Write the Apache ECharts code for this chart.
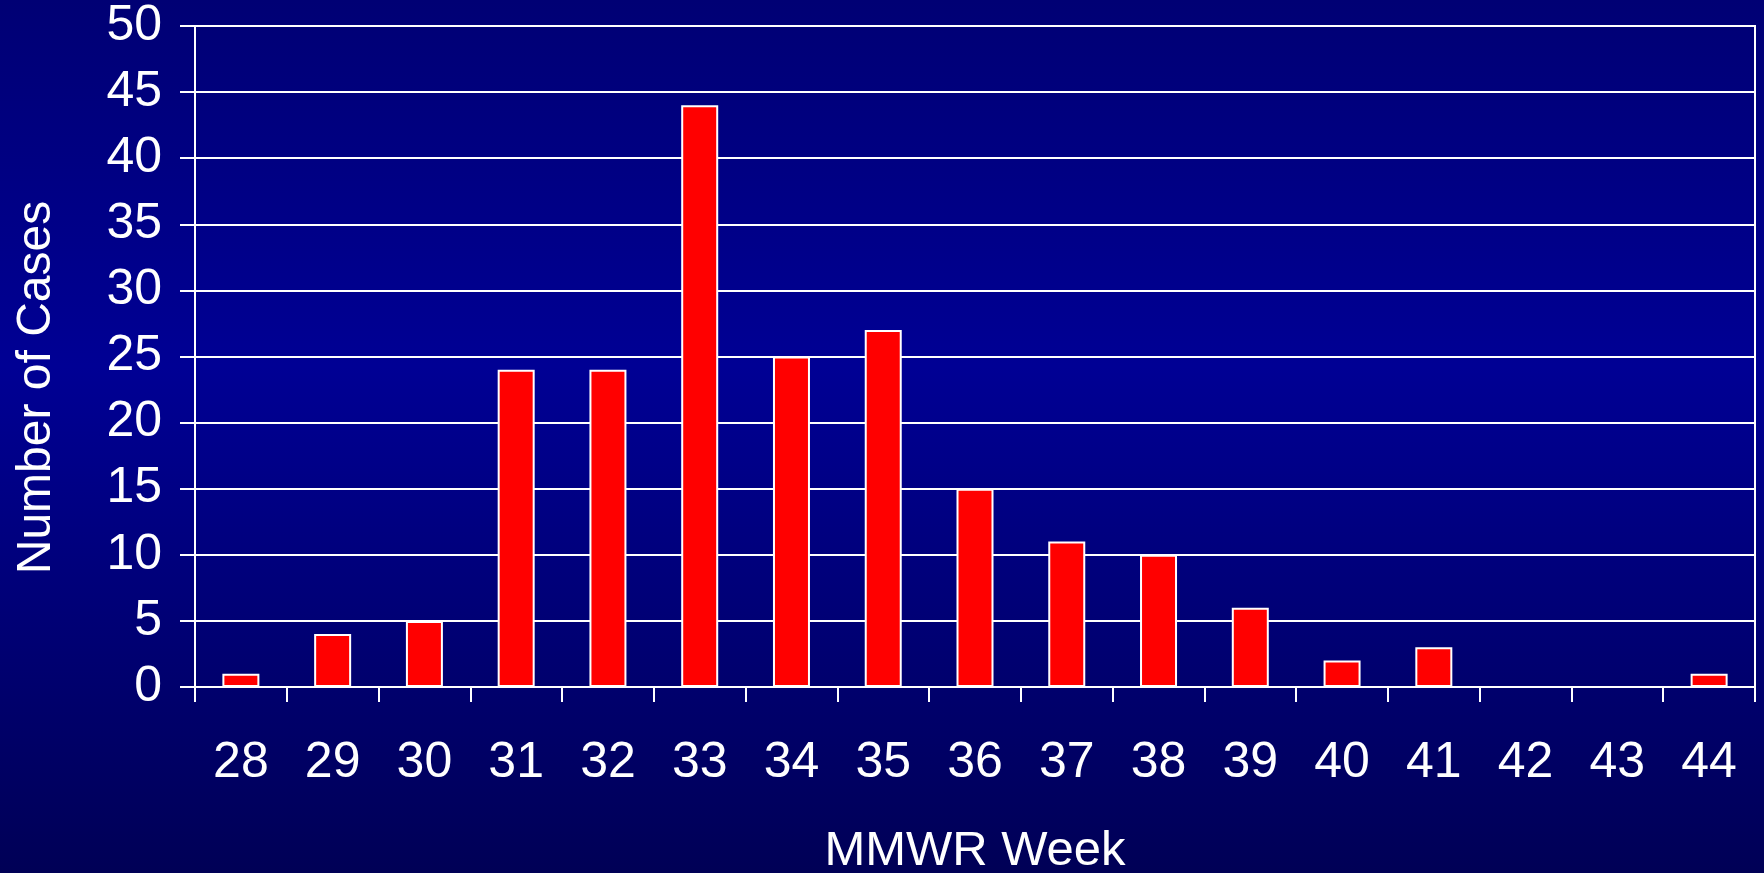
<!DOCTYPE html>
<html>
<head>
<meta charset="utf-8">
<script src="https://cdn.jsdelivr.net/npm/echarts@6/dist/echarts.min.js"></script>
<style>
html,body{margin:0;padding:0;width:1764px;height:873px;overflow:hidden;}
#chart{width:1764px;height:873px;}
</style>
</head>
<body>
<div id="chart"></div>
<script>
const weeks = ['28','29','30','31','32','33','34','35','36','37','38','39','40','41','42','43','44'];
const cases = [1, 4, 5, 24, 24, 44, 25, 27, 15, 11, 10, 6, 2, 3, 0, 0, 1];
const yTitle = 'Number of Cases';
const xTitle = 'MMWR Week';

const chart = echarts.init(document.getElementById('chart'));
const font = 'Liberation Sans, Arial, sans-serif';
chart.setOption({
  animation: false,
  backgroundColor: {
    type: 'linear', x: 0, y: 0, x2: 0, y2: 1,
    colorStops: [
      {offset: 0, color: '#000074'},
      {offset: 0.42, color: '#000094'},
      {offset: 1, color: '#000056'}
    ]
  },
  grid: {
    left: 195, right: 9, top: 26, bottom: 186,
    containLabel: false,
    outerBoundsMode: 'none',
    show: true, borderColor: '#ffffff', borderWidth: 2,
    backgroundColor: 'transparent'
  },
  xAxis: {
    type: 'category',
    data: weeks,
    name: xTitle,
    nameLocation: 'middle',
    nameGap: 140,
    nameTextStyle: {color: '#ffffff', fontSize: 49, fontFamily: font},
    axisLine: {lineStyle: {color: '#ffffff', width: 2}},
    axisTick: {show: true, alignWithLabel: false, length: 15, lineStyle: {color: '#ffffff', width: 2}},
    axisLabel: {color: '#ffffff', fontSize: 50, fontFamily: font, margin: 51, interval: 0},
    splitLine: {show: false}
  },
  yAxis: {
    type: 'value',
    min: 0, max: 50, interval: 5,
    name: yTitle,
    nameLocation: 'middle',
    nameGap: 134,
    nameTextStyle: {color: '#ffffff', fontSize: 48, fontFamily: font, padding: [0, 62, 0, 0]},
    axisLine: {show: true, lineStyle: {color: '#ffffff', width: 2}},
    axisTick: {show: true, length: 15, lineStyle: {color: '#ffffff', width: 2}},
    axisLabel: {color: '#ffffff', fontSize: 50, fontFamily: font, margin: 33},
    splitLine: {show: true, lineStyle: {color: '#ffffff', width: 2}}
  },
  series: [{
    type: 'bar',
    data: cases,
    barWidth: 37,
    itemStyle: {color: '#ff0000', borderColor: '#ffffff', borderWidth: 2}
  }]
});
</script>
</body>
</html>
